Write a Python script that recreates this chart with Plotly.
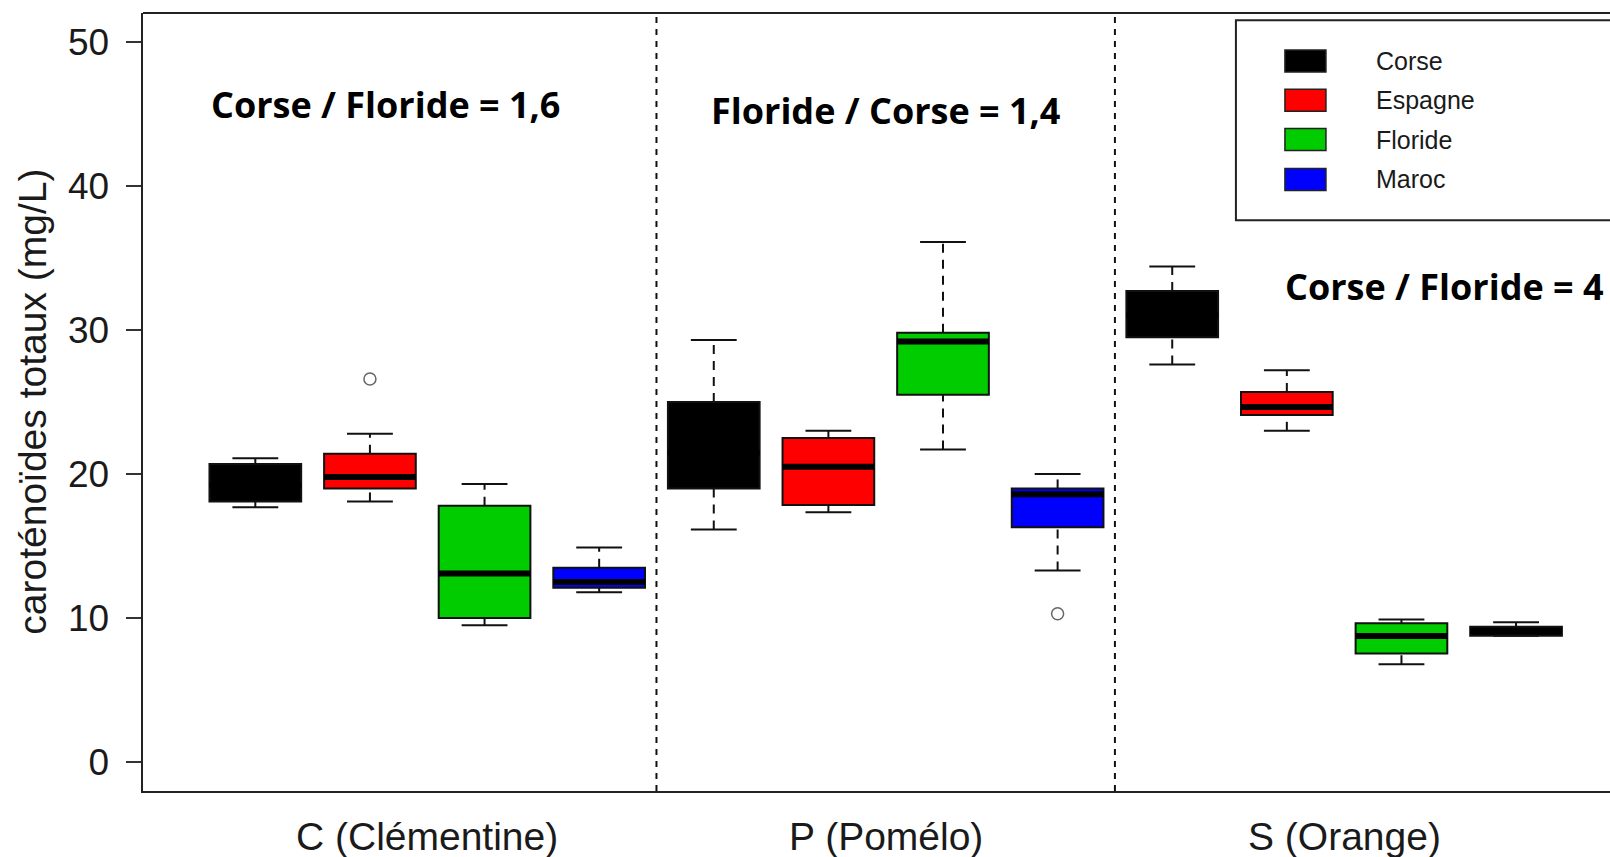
import plotly.graph_objects as go

# ---------------- data ----------------
groups = ["C (Clémentine)", "P (Pomélo)", "S (Orange)"]
origins = ["Corse", "Espagne", "Floride", "Maroc"]
origin_colors = ["#000000", "#FF0000", "#00CC00", "#0000FF"]

# 12 boxes: (group, origin) order C-*, P-*, S-*
box_positions = [1, 2, 3, 4, 5, 6, 7, 8, 9, 10, 11, 12]
box_fill = ["#000000", "#FF0000", "#00CC00", "#0000FF",
            "#000000", "#FF0000", "#00CC00", "#0000FF",
            "#000000", "#FF0000", "#00CC00", "#000000"]
whisker_low = [17.7, 18.1, 9.5, 11.8, 16.15, 17.35, 21.7, 13.3, 27.6, 23.0, 6.8, 8.77]
q1_vals = [18.1, 19.0, 10.0, 12.1, 19.0, 17.85, 25.5, 16.3, 29.5, 24.1, 7.55, 8.77]
median_vals = [19.2, 19.8, 13.1, 12.5, 21.5, 20.5, 29.2, 18.6, 31.0, 24.65, 8.75, 9.1]
q3_vals = [20.7, 21.4, 17.8, 13.5, 25.0, 22.5, 29.8, 19.0, 32.7, 25.7, 9.65, 9.4]
whisker_high = [21.1, 22.8, 19.3, 14.9, 29.3, 23.0, 36.1, 20.0, 34.4, 27.2, 9.9, 9.72]
outlier_pos = [2, 8]
outlier_vals = [26.6, 10.3]

group_centers = [2.5, 6.5, 10.5]
separators = [4.5, 8.5]
ratio_texts = ["Corse / Floride = 1,6", "Floride / Corse = 1,4", "Corse / Floride = 4"]

y_ticks = [0, 10, 20, 30, 40, 50]
y_title = "caroténoïdes totaux (mg/L)"

# ---------------- layout geometry ----------------
W, H = 1610, 857
ML, MR, MT, MB = 143.3, 0, 12.7, 66
PW, PH = W - ML - MR, H - MT - MB
BOX_W = 0.8
CAP_W = 0.4


def px_x(px):
    return (px - ML) / PW


def px_y(py):
    return (H - MB - py) / PH


FONT = "Liberation Sans, Arial, sans-serif"

fig = go.Figure()

# whiskers (dashed) and caps
wx, wy, cx, cy = [], [], [], []
for p, lo, a, b, hi in zip(box_positions, whisker_low, q1_vals, q3_vals, whisker_high):
    if hi > b:
        wx += [p, p, None]
        wy += [b, hi, None]
    if lo < a:
        wx += [p, p, None]
        wy += [lo, a, None]
    cx += [p - CAP_W / 2, p + CAP_W / 2, None, p - CAP_W / 2, p + CAP_W / 2, None]
    cy += [hi, hi, None, lo, lo, None]

fig.add_trace(go.Scatter(x=wx, y=wy, mode="lines", showlegend=False, hoverinfo="skip",
                         line=dict(color="#111111", width=2, dash="9px,7px")))
fig.add_trace(go.Scatter(x=cx, y=cy, mode="lines", showlegend=False, hoverinfo="skip",
                         line=dict(color="#111111", width=2)))

# boxes
for p, a, m, b, col in zip(box_positions, q1_vals, median_vals, q3_vals, box_fill):
    fig.add_trace(go.Box(x=[p], q1=[a], median=[m], q3=[b], lowerfence=[a], upperfence=[b],
                         width=BOX_W, fillcolor=col, line=dict(color="#111111", width=2),
                         whiskerwidth=0, boxpoints=False, showlegend=False, hoverinfo="skip"))

# medians (thick)
mx, my = [], []
for p, m in zip(box_positions, median_vals):
    mx += [p - BOX_W / 2, p + BOX_W / 2, None]
    my += [m, m, None]
fig.add_trace(go.Scatter(x=mx, y=my, mode="lines", showlegend=False, hoverinfo="skip",
                         line=dict(color="#000000", width=6)))

# outliers
fig.add_trace(go.Scatter(x=outlier_pos, y=outlier_vals, mode="markers", showlegend=False,
                         hoverinfo="skip",
                         marker=dict(symbol="circle-open", size=12, color="#666666",
                                     line=dict(width=1.5, color="#666666"))))

shapes = []
# group separators
for s in separators:
    shapes.append(dict(type="line", xref="x", yref="paper", x0=s, x1=s, y0=0, y1=1,
                       line=dict(color="#111111", width=2, dash="6px,6px")))
# top border
shapes.append(dict(type="line", xref="paper", yref="paper", x0=0, x1=1.05, y0=1, y1=1,
                   line=dict(color="#222222", width=2)))

# legend box
shapes.append(dict(type="rect", xref="paper", yref="paper",
                   x0=px_x(1236), x1=px_x(1700), y0=px_y(220), y1=px_y(20),
                   line=dict(color="#222222", width=2), fillcolor="white", layer="above"))
legend_rows = [60.7, 100.0, 139.3, 179.2]
annotations = []
for name, col, ry in zip(origins, origin_colors, legend_rows):
    shapes.append(dict(type="rect", xref="paper", yref="paper",
                       x0=px_x(1285), x1=px_x(1326), y0=px_y(ry + 11), y1=px_y(ry - 11),
                       line=dict(color="#222222", width=1.5), fillcolor=col, layer="above"))
    annotations.append(dict(text=name, xref="paper", yref="paper", x=px_x(1374), y=px_y(ry),
                            xanchor="left", yanchor="middle", showarrow=False,
                            font=dict(family=FONT, size=25, color="#1a1a1a")))

# group labels under the axis
for gname, gc in zip(groups, group_centers):
    annotations.append(dict(text=gname, xref="x", yref="paper", x=gc, y=px_y(837),
                            xanchor="center", yanchor="middle", showarrow=False,
                            font=dict(family=FONT, size=39, color="#1a1a1a")))

# ratio annotations
ratio_pos = [(386, 104), (886, 110), (1445, 286)]
for t, (ax_, ay_) in zip(ratio_texts, ratio_pos):
    annotations.append(dict(text="<b>" + t + "</b>", xref="paper", yref="paper",
                            x=px_x(ax_), y=px_y(ay_), xanchor="center", yanchor="middle",
                            showarrow=False,
                            font=dict(family="Open Sans, sans-serif", size=36,
                                      color="#000000")))

# y-axis title
annotations.append(dict(text=y_title, xref="paper", yref="paper", x=px_x(32), y=0.5,
                        xanchor="center", yanchor="middle", textangle=-90, showarrow=False,
                        font=dict(family=FONT, size=39, color="#1a1a1a")))

fig.update_layout(
    width=W, height=H,
    margin=dict(l=ML, r=MR, t=MT, b=MB, pad=0),
    paper_bgcolor="white", plot_bgcolor="white",
    showlegend=False,
    boxmode="overlay",
    shapes=shapes,
    annotations=annotations,
    xaxis=dict(range=[0.02, 0.02 + PW / 114.59], showgrid=False, zeroline=False,
               showticklabels=False, ticks="", showline=True, linecolor="#222222",
               linewidth=2),
    yaxis=dict(range=[-2, 52], tickvals=y_ticks, ticks="outside", ticklen=15.5,
               tickwidth=2, tickcolor="#333333", showgrid=False, zeroline=False,
               showline=True, linecolor="#222222", linewidth=2,
               tickfont=dict(family=FONT, size=37, color="#1a1a1a"),
               ticklabelstandoff=9),
)

fig.write_html("out.html", config={"displayModeBar": False},
               post_script="document.body.style.margin='0px';")
